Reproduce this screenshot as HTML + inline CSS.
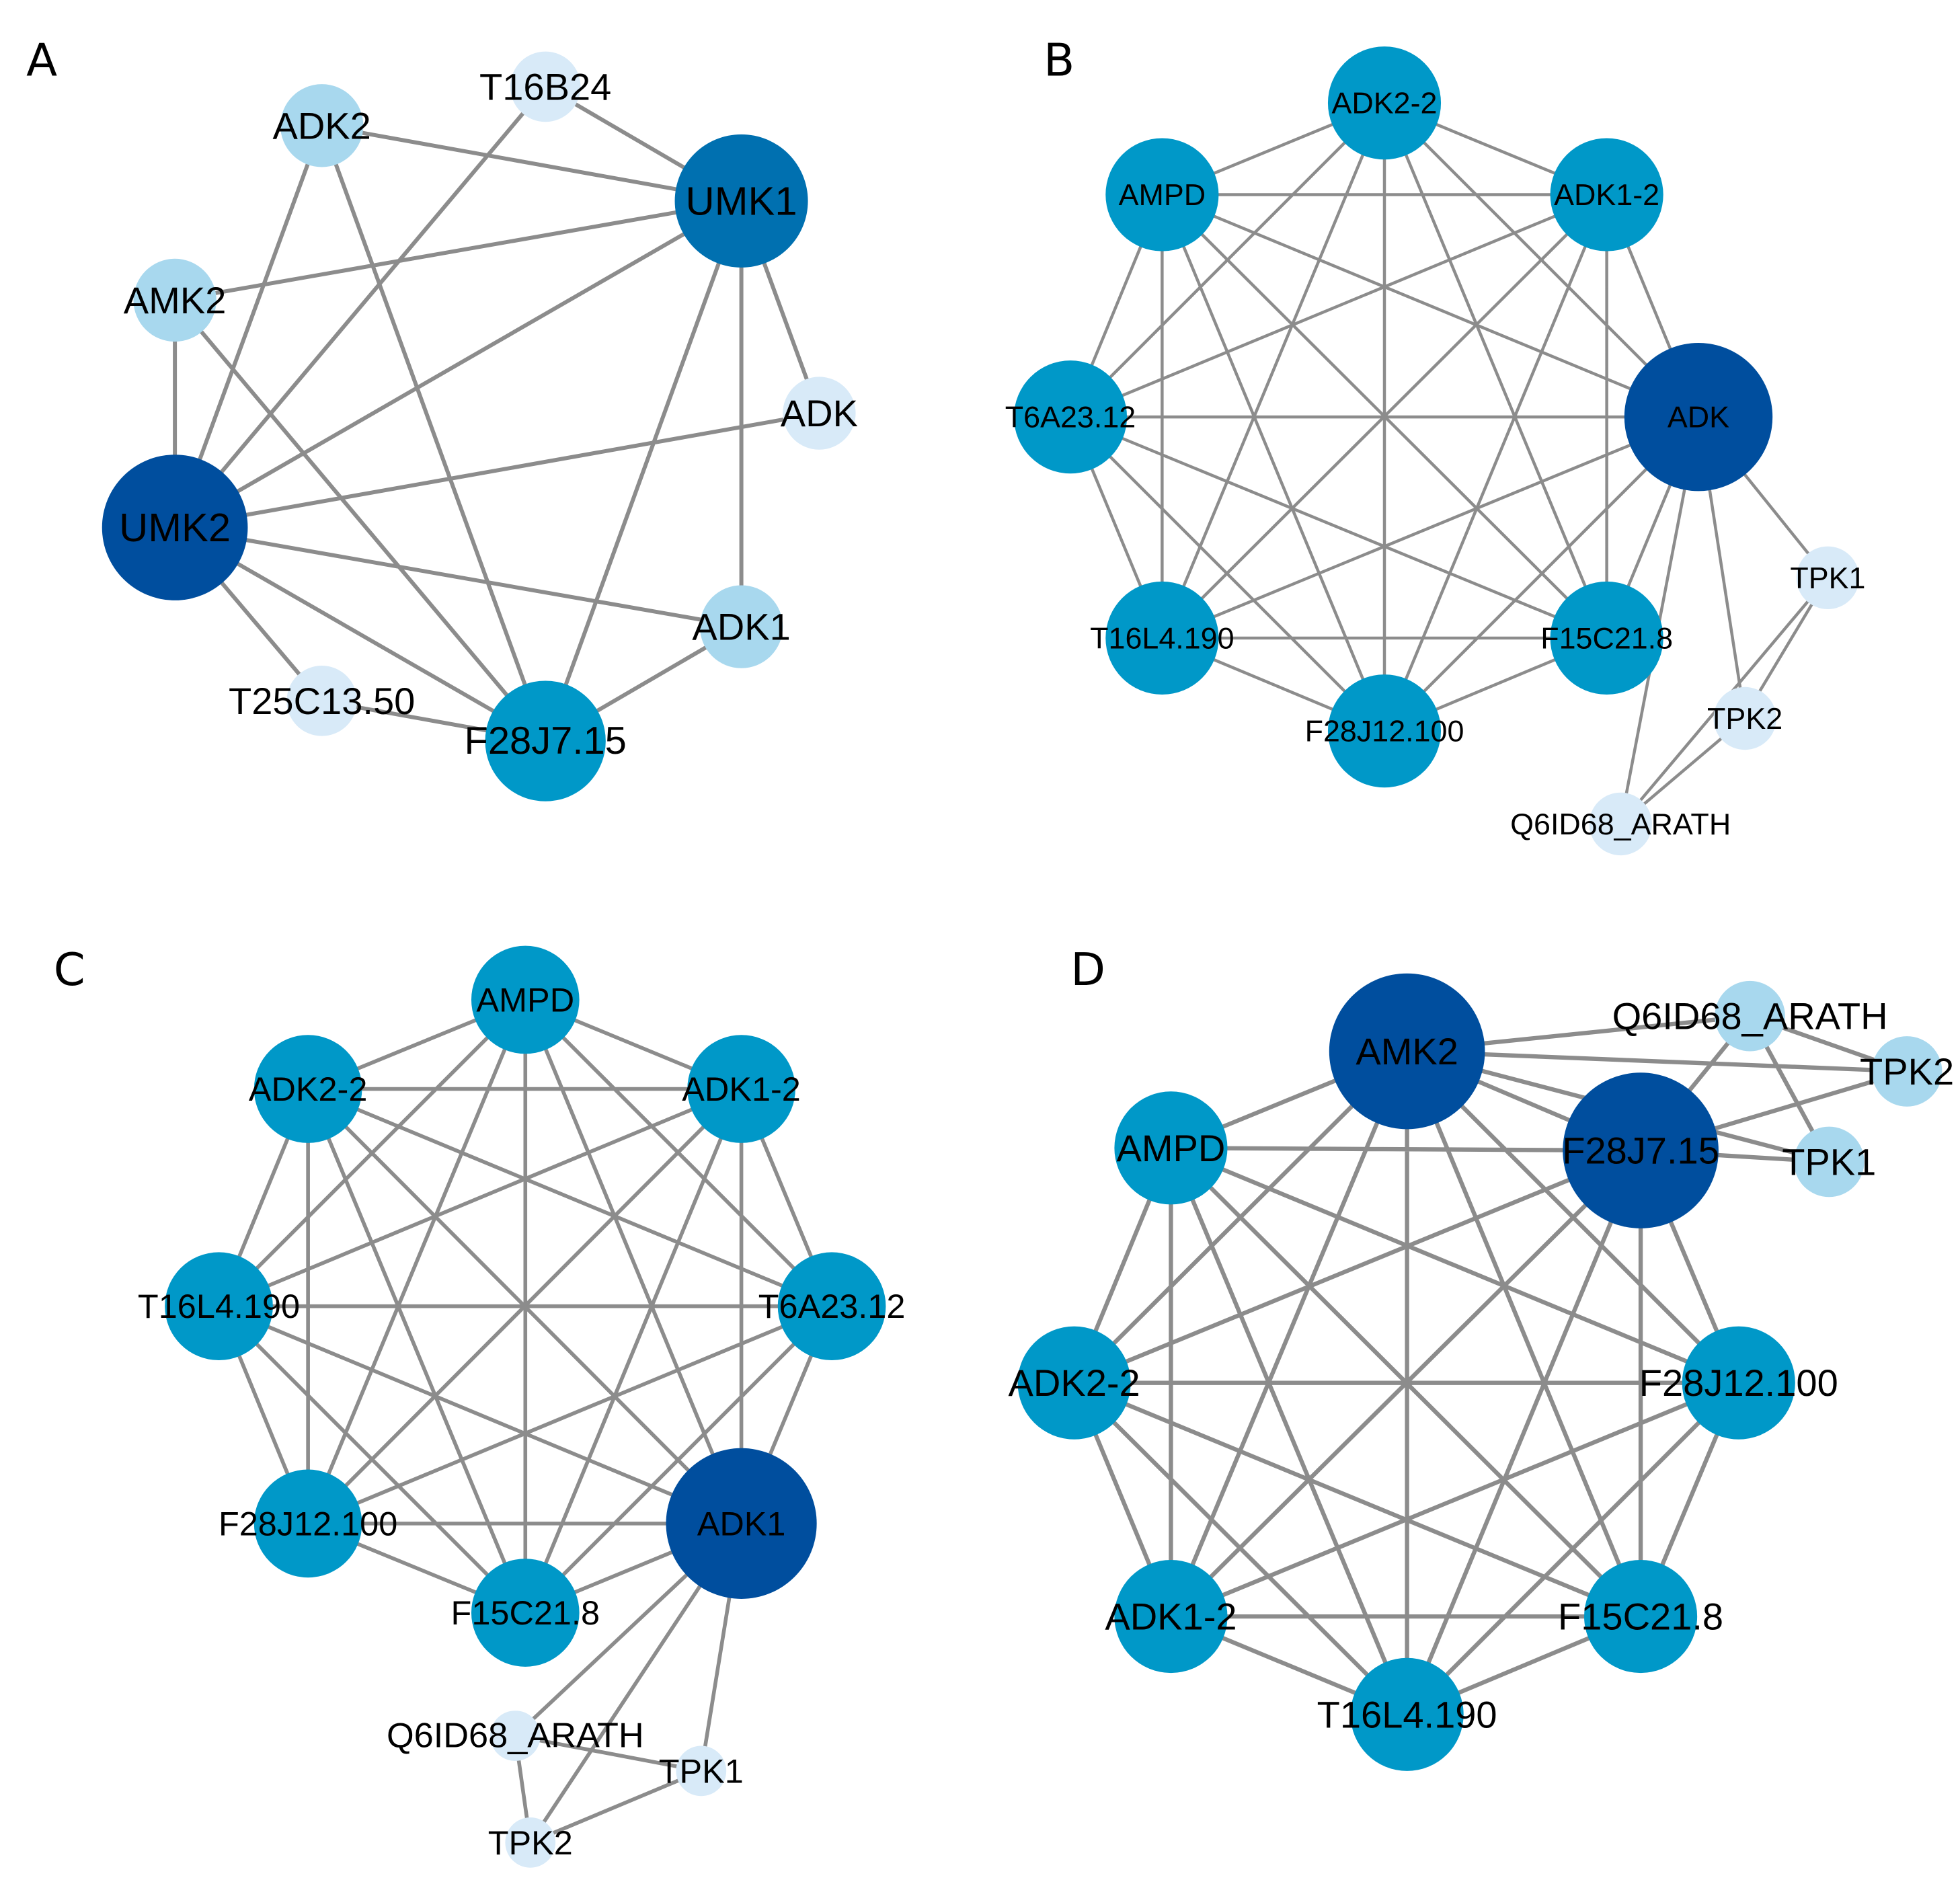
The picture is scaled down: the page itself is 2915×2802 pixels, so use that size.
<!DOCTYPE html>
<html><head><meta charset="utf-8">
<style>
html,body{margin:0;padding:0;background:#fff;}
svg{display:block;}
text{font-family:"Liberation Sans",Arial,sans-serif;fill:#000;text-anchor:middle;dominant-baseline:central;}
path{fill:none;stroke:#8c8c8c;stroke-linecap:round;}
</style></head>
<body>
<svg width="2915" height="2802" viewBox="0 0 1560 1500" xmlns="http://www.w3.org/2000/svg">
<rect width="1560" height="1500" fill="#fff"/>
<!-- A edges -->
<path stroke-width="3.2" d="M434 69L590 160 M256 100L590 160 M256 100L139 420 M256 100L434 590 M434 69L139 420 M139 239L590 160 M139 239L139 420 M139 239L434 590 M590 160L139 420 M590 160L652 329 M590 160L590 499 M590 160L434 590 M139 420L652 329 M139 420L590 499 M139 420L256 558 M139 420L434 590 M256 558L434 590 M590 499L434 590"/>
<!-- B edges -->
<path stroke-width="2.4" d="M1102 82L925 155 M1102 82L1279 155 M1102 82L852 332 M1102 82L1352 332 M1102 82L925 508 M1102 82L1279 508 M1102 82L1102 582 M925 155L1279 155 M925 155L852 332 M925 155L1352 332 M925 155L925 508 M925 155L1279 508 M925 155L1102 582 M1279 155L852 332 M1279 155L1352 332 M1279 155L925 508 M1279 155L1279 508 M1279 155L1102 582 M852 332L1352 332 M852 332L925 508 M852 332L1279 508 M852 332L1102 582 M1352 332L925 508 M1352 332L1279 508 M1352 332L1102 582 M925 508L1279 508 M925 508L1102 582 M1279 508L1102 582 M1352 332L1455 460 M1352 332L1389 572 M1352 332L1290 656 M1455 460L1290 656 M1389 572L1290 656 M1455 460L1380 585"/>
<!-- C edges -->
<path stroke-width="3" d="M418 796L245 867 M418 796L590 867 M418 796L174 1040 M418 796L662 1040 M418 796L245 1213 M418 796L590 1213 M418 796L418 1284 M245 867L590 867 M245 867L174 1040 M245 867L662 1040 M245 867L245 1213 M245 867L590 1213 M245 867L418 1284 M590 867L174 1040 M590 867L662 1040 M590 867L245 1213 M590 867L590 1213 M590 867L418 1284 M174 1040L662 1040 M174 1040L245 1213 M174 1040L590 1213 M174 1040L418 1284 M662 1040L245 1213 M662 1040L590 1213 M662 1040L418 1284 M245 1213L590 1213 M245 1213L418 1284 M590 1213L418 1284 M590 1213L410 1382 M590 1213L558 1410 M590 1213L422 1467 M410 1382L558 1410 M410 1382L422 1467 M558 1410L422 1467"/>
<!-- D edges -->
<path stroke-width="3.4" d="M1120 837L1306 916 M1120 837L932 914 M1120 837L855 1101 M1120 837L1384 1101 M1120 837L932 1287 M1120 837L1306 1287 M1120 837L1120 1365 M1306 916L932 914 M1306 916L855 1101 M1306 916L1384 1101 M1306 916L932 1287 M1306 916L1306 1287 M1306 916L1120 1365 M932 914L855 1101 M932 914L1384 1101 M932 914L932 1287 M932 914L1306 1287 M932 914L1120 1365 M855 1101L1384 1101 M855 1101L932 1287 M855 1101L1306 1287 M855 1101L1120 1365 M1384 1101L932 1287 M1384 1101L1306 1287 M1384 1101L1120 1365 M932 1287L1306 1287 M932 1287L1120 1365 M1306 1287L1120 1365 M1120 837L1393 809 M1120 837L1518 853 M1120 837L1456 925 M1306 916L1393 809 M1306 916L1518 853 M1306 916L1456 925 M1393 809L1518 853 M1393 809L1456 925"/>
<g>
<circle cx="590" cy="160" r="53" fill="#0070b0"/>
<circle cx="139" cy="420" r="58" fill="#004e9e"/>
<circle cx="256" cy="100" r="33" fill="#a8d8ee"/>
<circle cx="434" cy="69" r="28" fill="#d8eaf8"/>
<circle cx="139" cy="239" r="33" fill="#a8d8ee"/>
<circle cx="652" cy="329" r="29" fill="#d8eaf8"/>
<circle cx="590" cy="499" r="33" fill="#a8d8ee"/>
<circle cx="256" cy="558" r="28" fill="#d8eaf8"/>
<circle cx="434" cy="590" r="48" fill="#0098c8"/>
<circle cx="1102" cy="82" r="45" fill="#0098c8"/>
<circle cx="925" cy="155" r="45" fill="#0098c8"/>
<circle cx="1279" cy="155" r="45" fill="#0098c8"/>
<circle cx="852" cy="332" r="45" fill="#0098c8"/>
<circle cx="1352" cy="332" r="59" fill="#004e9e"/>
<circle cx="925" cy="508" r="45" fill="#0098c8"/>
<circle cx="1279" cy="508" r="45" fill="#0098c8"/>
<circle cx="1102" cy="582" r="45" fill="#0098c8"/>
<circle cx="1455" cy="460" r="25" fill="#d8eaf8"/>
<circle cx="1389" cy="572" r="25" fill="#d8eaf8"/>
<circle cx="1290" cy="656" r="25" fill="#d8eaf8"/>
<circle cx="418" cy="796" r="43" fill="#0098c8"/>
<circle cx="245" cy="867" r="43" fill="#0098c8"/>
<circle cx="590" cy="867" r="43" fill="#0098c8"/>
<circle cx="174" cy="1040" r="43" fill="#0098c8"/>
<circle cx="662" cy="1040" r="43" fill="#0098c8"/>
<circle cx="245" cy="1213" r="43" fill="#0098c8"/>
<circle cx="590" cy="1213" r="60" fill="#004e9e"/>
<circle cx="418" cy="1284" r="43" fill="#0098c8"/>
<circle cx="410" cy="1382" r="20" fill="#d8eaf8"/>
<circle cx="558" cy="1410" r="20" fill="#d8eaf8"/>
<circle cx="422" cy="1467" r="20" fill="#d8eaf8"/>
<circle cx="1120" cy="837" r="62" fill="#004e9e"/>
<circle cx="1306" cy="916" r="62" fill="#004e9e"/>
<circle cx="932" cy="914" r="45" fill="#0098c8"/>
<circle cx="855" cy="1101" r="45" fill="#0098c8"/>
<circle cx="1384" cy="1101" r="45" fill="#0098c8"/>
<circle cx="932" cy="1287" r="45" fill="#0098c8"/>
<circle cx="1306" cy="1287" r="45" fill="#0098c8"/>
<circle cx="1120" cy="1365" r="45" fill="#0098c8"/>
<circle cx="1393" cy="809" r="28" fill="#a8d8ee"/>
<circle cx="1518" cy="853" r="28" fill="#a8d8ee"/>
<circle cx="1456" cy="925" r="28" fill="#a8d8ee"/>
</g>
<g>
<text x="33" y="48" font-size="36" style="font-family:'DejaVu Sans',sans-serif">A</text>
<text x="843" y="48" font-size="36" style="font-family:'DejaVu Sans',sans-serif">B</text>
<text x="55" y="772" font-size="36" style="font-family:'DejaVu Sans',sans-serif">C</text>
<text x="866" y="772" font-size="36" style="font-family:'DejaVu Sans',sans-serif">D</text>

<text x="590" y="160" font-size="32">UMK1</text>
<text x="139" y="420" font-size="32">UMK2</text>
<text x="256" y="100" font-size="30">ADK2</text>
<text x="434" y="69" font-size="30">T16B24</text>
<text x="139" y="239" font-size="30">AMK2</text>
<text x="652" y="329" font-size="30">ADK</text>
<text x="590" y="499" font-size="30">ADK1</text>
<text x="256" y="558" font-size="30">T25C13.50</text>
<text x="434" y="590" font-size="31">F28J7.15</text>

<text x="1102" y="82" font-size="24">ADK2-2</text>
<text x="925" y="155" font-size="24">AMPD</text>
<text x="1279" y="155" font-size="24">ADK1-2</text>
<text x="852" y="332" font-size="24">T6A23.12</text>
<text x="1352" y="332" font-size="24">ADK</text>
<text x="925" y="508" font-size="24">T16L4.190</text>
<text x="1279" y="508" font-size="24">F15C21.8</text>
<text x="1102" y="582" font-size="24">F28J12.100</text>
<text x="1455" y="460" font-size="24">TPK1</text>
<text x="1389" y="572" font-size="24">TPK2</text>
<text x="1290" y="656" font-size="24">Q6ID68_ARATH</text>

<text x="418" y="796" font-size="27">AMPD</text>
<text x="245" y="867" font-size="27">ADK2-2</text>
<text x="590" y="867" font-size="27">ADK1-2</text>
<text x="174" y="1040" font-size="27">T16L4.190</text>
<text x="662" y="1040" font-size="27">T6A23.12</text>
<text x="245" y="1213" font-size="27">F28J12.100</text>
<text x="590" y="1213" font-size="27">ADK1</text>
<text x="418" y="1284" font-size="27">F15C21.8</text>
<text x="410" y="1382" font-size="28">Q6ID68_ARATH</text>
<text x="558" y="1410" font-size="27">TPK1</text>
<text x="422" y="1467" font-size="27">TPK2</text>

<text x="1120" y="837" font-size="30">AMK2</text>
<text x="1306" y="916" font-size="30">F28J7.15</text>
<text x="932" y="914" font-size="30">AMPD</text>
<text x="855" y="1101" font-size="30">ADK2-2</text>
<text x="1384" y="1101" font-size="30">F28J12.100</text>
<text x="932" y="1287" font-size="30">ADK1-2</text>
<text x="1306" y="1287" font-size="30">F15C21.8</text>
<text x="1120" y="1365" font-size="30">T16L4.190</text>
<text x="1393" y="809" font-size="30">Q6ID68_ARATH</text>
<text x="1518" y="853" font-size="30">TPK2</text>
<text x="1456" y="925" font-size="30">TPK1</text>
</g>
</svg>
</body></html>
